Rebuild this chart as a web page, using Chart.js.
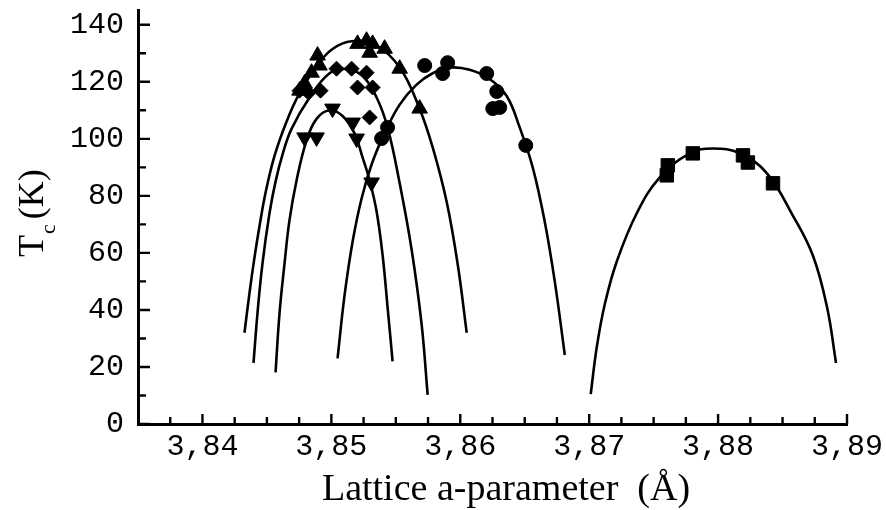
<!DOCTYPE html>
<html>
<head>
<meta charset="utf-8">
<script src="https://cdn.jsdelivr.net/npm/chart.js@4/dist/chart.umd.min.js"></script>
<style>
  html, body { margin: 0; padding: 0; background: #fff; }
  #c { display: block; }
</style>
</head>
<body>
<canvas id="c" width="886" height="510"></canvas>
<script>
// ---- tick labels ----
const xTickValues = [3.84, 3.85, 3.86, 3.87, 3.88, 3.89];
const yTickValues = [0, 20, 40, 60, 80, 100, 120, 140];

// ---- fitted curves (lattice a-parameter, Tc) ----
const curveUpA = [3.84326, 3.84365, 3.84404, 3.84443, 3.84489, 3.84559, 3.84652, 3.84753, 3.84885, 3.85009, 3.85157, 3.85335, 3.85530, 3.85685, 3.85786, 3.85894, 3.85980, 3.86050];
const curveUpT = [32, 46, 58.5, 69.5, 81, 94, 106, 116, 125.5, 131.5, 134.2, 133, 125, 110.5, 97, 78, 56, 32];

const curveDiaA = [3.84396, 3.84427, 3.84466, 3.84520, 3.84567, 3.84621, 3.84691, 3.84831, 3.84986, 3.85118, 3.85242, 3.85351, 3.85436, 3.85530, 3.85623, 3.85700, 3.85747];
const curveDiaT = [21.4, 38.9, 56.4, 73.9, 85, 94.5, 103.5, 114.5, 123, 124.5, 122, 114.5, 104, 84.4, 61, 35, 10.2];

const curveDownA = [3.84567, 3.84598, 3.84637, 3.84675, 3.84730, 3.84807, 3.84885, 3.84986, 3.85087, 3.85180, 3.85242, 3.85297, 3.85351, 3.85398, 3.85436, 3.85475];
const curveDownT = [18.1, 38.9, 56.4, 71.4, 85.4, 99.4, 107, 110, 108, 101.9, 93.5, 85.4, 74.5, 59, 41, 22];

const curveCircA = [3.85048, 3.85102, 3.85165, 3.85234, 3.85312, 3.85413, 3.85530, 3.85661, 3.85786, 3.85918, 3.86073, 3.86228, 3.86360, 3.86461, 3.86562, 3.86655, 3.86733, 3.86811];
const curveCircT = [23, 45, 64, 79, 91, 102, 112, 119, 123, 125, 124.2, 121, 115, 104, 90, 71, 50, 24.2];

const curveSqA = [3.87012, 3.87059, 3.87121, 3.87214, 3.87370, 3.87548, 3.87781, 3.87960, 3.88169, 3.88379, 3.88581, 3.88736, 3.88845, 3.88915];
const curveSqT = [10.5, 27, 42, 57, 74, 86.5, 94.9, 96.6, 94.9, 87.9, 73, 59, 41, 21.4];

// ---- measured points ----
const upA = [3.84893, 3.84908, 3.84846, 3.84792, 3.84753, 3.85203, 3.85273, 3.85320, 3.85297, 3.85413, 3.85530, 3.85685];
const upT = [129.2, 125.7, 123.2, 119.4, 116.9, 133.3, 134.4, 133.3, 130.2, 131.6, 124.6, 110.6];

const diaA = [3.85040, 3.85157, 3.85273, 3.85203, 3.85320, 3.85297, 3.84753, 3.84823, 3.84916];
const diaT = [124.6, 124.6, 123.2, 118, 118, 107.5, 116.9, 116.2, 116.9];

const downA = [3.85009, 3.85165, 3.84792, 3.84885, 3.85196, 3.85312];
const downT = [110.6, 105.7, 100.5, 100.5, 100.1, 84.7];

const circA = [3.85436, 3.85390, 3.85724, 3.85902, 3.85863, 3.86205, 3.86283, 3.86252, 3.86306, 3.86508];
const circT = [104, 100.1, 125.7, 126.7, 122.9, 122.9, 116.6, 110.6, 111, 97.7];

const sqA = [3.87610, 3.87602, 3.87804, 3.88193, 3.88231, 3.88426];
const sqT = [90.7, 87.2, 94.9, 94.2, 91.7, 84.4];

const xMin = 3.835, xMax = 3.89, yMin = 0, yMax = 145;

function pts(a, t) { return a.map((v, i) => ({ x: v, y: t[i] })); }

function curve(a, t) {
  return {
    data: pts(a, t), showLine: true, pointRadius: 0, borderColor: '#000',
    borderWidth: 2.6, tension: 0.4, order: 2, fill: false
  };
}
function marks(a, t, style, r, rot) {
  return {
    data: pts(a, t), showLine: false, pointStyle: style, pointRadius: r,
    pointRotation: rot || 0, backgroundColor: '#000', borderColor: '#000',
    borderWidth: 1, order: 1
  };
}

const axisDecor = {
  id: 'axisDecor',
  afterDraw(chart) {
    const ctx = chart.ctx, xs = chart.scales.x, ys = chart.scales.y;
    const x0 = xs.getPixelForValue(xMin), y0 = ys.getPixelForValue(0);
    ctx.save();
    ctx.strokeStyle = '#000';
    ctx.lineWidth = 2.4;
    ctx.beginPath();
    for (let v = 0; v <= 140; v += 10) {
      const y = ys.getPixelForValue(v);
      const len = (v % 20 === 0) ? 12 : 8;
      ctx.moveTo(x0, y); ctx.lineTo(x0 + len, y);
    }
    for (let k = 0; k <= 21; k++) {
      const v = 3.8375 + k * 0.0025;
      const x = xs.getPixelForValue(v);
      const major = (k % 4 === 1);
      ctx.moveTo(x, y0); ctx.lineTo(x, y0 - (major ? 10 : 7));
    }
    ctx.stroke();

    ctx.fillStyle = '#000';
    ctx.font = '38px "Liberation Serif", "Times New Roman", serif';
    ctx.textAlign = 'center';
    ctx.textBaseline = 'alphabetic';
    ctx.fillText('Lattice a-parameter  (Å)', 506, 500);

    ctx.translate(43, 257);
    ctx.rotate(-Math.PI / 2);
    ctx.textAlign = 'left';
    ctx.font = '36px "Liberation Serif", "Times New Roman", serif';
    ctx.fillText('T', 0, 0);
    const wT = ctx.measureText('T').width;
    ctx.font = '22px "Liberation Serif", "Times New Roman", serif';
    ctx.fillText('c', wT + 1, 12);
    const wc = ctx.measureText('c').width;
    ctx.font = '36px "Liberation Serif", "Times New Roman", serif';
    ctx.fillText('(K)', wT + wc + 6, 0);
    ctx.restore();
  }
};

const monoFont = { family: '"Liberation Mono", "Courier New", monospace', size: 30, lineHeight: 1 };

new Chart(document.getElementById('c'), {
  type: 'scatter',
  data: {
    datasets: [
      curve(curveUpA, curveUpT),
      curve(curveDiaA, curveDiaT),
      curve(curveDownA, curveDownT),
      curve(curveCircA, curveCircT),
      curve(curveSqA, curveSqT),
      marks(upA, upT, 'triangle', 9),
      marks(diaA, diaT, 'rectRot', 7.5),
      marks(downA, downT, 'triangle', 9, 180),
      marks(circA, circT, 'circle', 7),
      marks(sqA, sqT, 'rect', 9.5)
    ]
  },
  options: {
    responsive: false,
    devicePixelRatio: 1,
    animation: false,
    layout: { padding: { top: 10, right: 39, left: 0, bottom: 0 } },
    plugins: { legend: { display: false }, tooltip: { enabled: false } },
    scales: {
      x: {
        type: 'linear', min: xMin, max: xMax,
        grid: { display: false },
        border: { display: true, color: '#000', width: 3 },
        afterBuildTicks: s => { s.ticks = xTickValues.map(v => ({ value: v })); },
        afterFit: s => { s.height = 86; s.paddingLeft = 0; s.paddingRight = 0; s.paddingTop = 0; s.paddingBottom = 0; },
        ticks: {
          color: '#000', font: monoFont, padding: 0, maxRotation: 0, autoSkip: false,
          callback: v => Number(v).toFixed(2).replace('.', ',')
        }
      },
      y: {
        type: 'linear', min: yMin, max: yMax,
        grid: { display: false },
        border: { display: true, color: '#000', width: 3 },
        afterBuildTicks: s => { s.ticks = yTickValues.map(v => ({ value: v })); },
        afterFit: s => { s.width = 138; s.paddingTop = 0; s.paddingBottom = 0; s.paddingLeft = 0; s.paddingRight = 0; },
        ticks: { color: '#000', font: monoFont, padding: 6, autoSkip: false }
      }
    }
  },
  plugins: [axisDecor]
});
</script>
</body>
</html>
